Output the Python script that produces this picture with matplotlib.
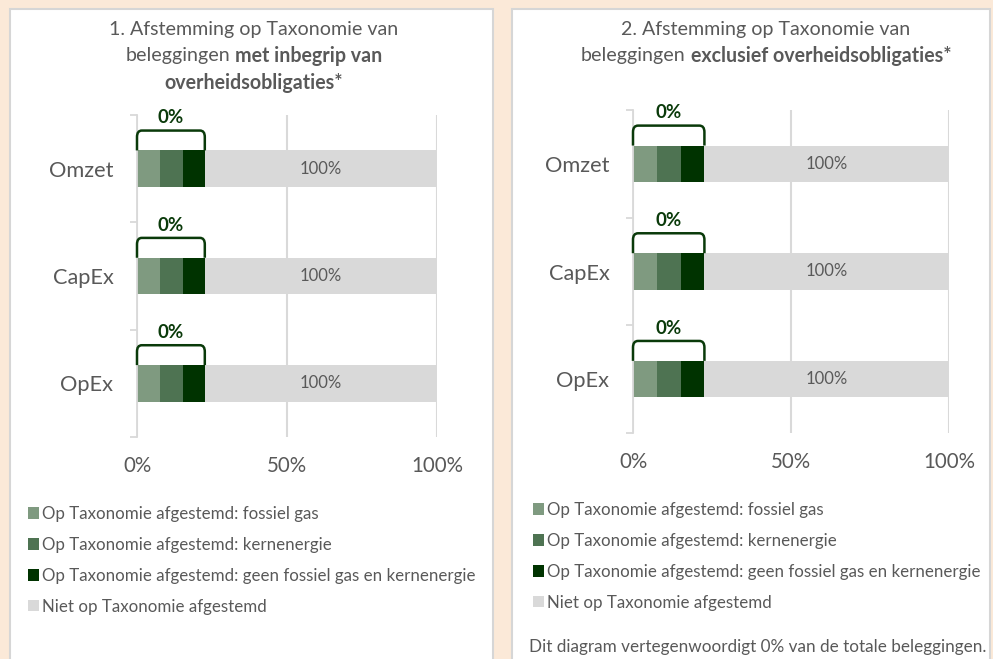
import numpy as np
import matplotlib.pyplot as plt
from matplotlib.patches import Rectangle, PathPatch
from matplotlib.path import Path

plt.rcParams['font.family'] = ['Lato', 'DejaVu Sans']

# ---- data ----
categories = ["Omzet", "CapEx", "OpEx"]
# bar lengths as drawn in the chart (%)
fossiel_gas = [7.6, 7.6, 7.6]
kernenergie = [7.7, 7.7, 7.7]
geen_fossiel_kern = [7.3, 7.3, 7.3]
niet_afgestemd = [77.4, 77.4, 77.4]
afgestemd_labels = ["0%", "0%", "0%"]
niet_labels = ["100%", "100%", "100%"]
xticks = [0, 50, 100]
xticklabels = ["0%", "50%", "100%"]
series_names = ["Op Taxonomie afgestemd: fossiel gas",
                "Op Taxonomie afgestemd: kernenergie",
                "Op Taxonomie afgestemd: geen fossiel gas en kernenergie",
                "Niet op Taxonomie afgestemd"]
series_colors = ["#7F9A80", "#4E7352", "#003300", "#D9D9D9"]

titles = [
    [[("1. Afstemming op Taxonomie van", "normal")],
     [("beleggingen", "normal"), ("met inbegrip van", "bold")],
     [("overheidsobligaties*", "bold")]],
    [[("2. Afstemming op Taxonomie van", "normal")],
     [("beleggingen", "normal"), ("exclusief overheidsobligaties*", "bold")]],
]
footnote = "Dit diagram vertegenwoordigt 0% van de totale beleggingen."

W, H = 993, 659
TXT = "#595959"
GRID = "#D9D9D9"
DARK = "#0A3A0A"


def fx(x):
    return x / W


def fy(y):
    return 1 - y / H


fig = plt.figure(figsize=(W / 100, H / 100), dpi=100)
fig.patch.set_facecolor("#FBE9D8")

# white panels
for x0, x1 in [(10, 493), (512, 990)]:
    fig.add_artist(Rectangle((fx(x0), fy(680)), fx(x1 - x0), (680 - 9) / H,
                             transform=fig.transFigure, facecolor="white",
                             edgecolor="#D6D6D6", lw=1.5, zorder=0))

panels = [
    dict(ax=(137, 437, 115, 437), title_x=254, title_y=29, leg=(28, 506), foot=None),
    dict(ax=(633, 949, 110, 433), title_x=766, title_y=29, leg=(533, 502), foot=(529, 647)),
]


def draw_title(lines, cx, cy, size=14.1, step=27):
    r = fig.canvas.get_renderer()
    sp = fig.text(0, 0, "a a", fontsize=size)
    nsp = fig.text(0, 0, "aa", fontsize=size)
    space = sp.get_window_extent(r).width - nsp.get_window_extent(r).width
    sp.remove()
    nsp.remove()
    for k, pieces in enumerate(lines):
        objs = [fig.text(0, fy(cy + k * step), s, fontsize=size, fontweight=w,
                         color=TXT, ha="left", va="center") for s, w in pieces]
        widths = [o.get_window_extent(r).width for o in objs]
        total = sum(widths) + space * (len(objs) - 1)
        x = cx - total / 2
        for o, w in zip(objs, widths):
            o.set_x(fx(x))
            x += w + space


fig.canvas.draw()

for p, lines in zip(panels, titles):
    l, r_, t, b = p["ax"]
    ax = fig.add_axes([fx(l), fy(b), fx(r_ - l), (b - t) / H])
    y = np.arange(len(categories))
    left = np.zeros(len(categories))
    bars = []
    for vals, c in zip([fossiel_gas, kernenergie, geen_fossiel_kern, niet_afgestemd], series_colors):
        bars.append(ax.barh(y, vals, left=left, height=0.34, color=c, zorder=2))
        left = left + np.array(vals)

    green = np.array(fossiel_gas) + np.array(kernenergie) + np.array(geen_fossiel_kern)
    for i in range(len(categories)):
        ybar = y[i] - 0.17
        ytop = ybar - 0.185
        x0, x1 = 0.0, green[i]
        rx, ry = 1.6, 0.06
        verts = [(x0, ybar), (x0, ytop + ry), (x0, ytop), (x0 + rx, ytop),
                 (x1 - rx, ytop), (x1, ytop), (x1, ytop + ry), (x1, ybar)]
        codes = [Path.MOVETO, Path.LINETO, Path.CURVE3, Path.CURVE3,
                 Path.LINETO, Path.CURVE3, Path.CURVE3, Path.LINETO]
        ax.add_patch(PathPatch(Path(verts, codes), fill=False, edgecolor=DARK,
                               lw=1.8, zorder=3, clip_on=False))
        ax.text(green[i] / 2, ytop - 0.12, afgestemd_labels[i], ha="center", va="center",
                fontsize=13.5, fontweight="bold", color=DARK)
        ax.text(green[i] + niet_afgestemd[i] / 2, y[i], niet_labels[i], ha="center",
                va="center", fontsize=12, color=TXT, zorder=4)

    ax.set_xlim(0, 100)
    ax.set_ylim(len(categories) - 0.5, -0.5)
    ax.set_xticks(xticks)
    ax.set_xticklabels(xticklabels)
    ax.set_yticks(y)
    ax.set_yticklabels(categories)
    ax.set_yticks(np.arange(len(categories) + 1) - 0.5, minor=True)
    ax.tick_params(axis="x", length=0, pad=14, labelsize=14.8, labelcolor=TXT)
    ax.tick_params(axis="y", which="major", length=0, pad=17, labelsize=15.7, labelcolor=TXT)
    ax.tick_params(axis="y", which="minor", length=5, width=1.3, color=GRID)
    for s in ["top", "right", "bottom"]:
        ax.spines[s].set_visible(False)
    ax.spines["left"].set_color(GRID)
    ax.spines["left"].set_linewidth(1.3)
    ax.grid(axis="x", color=GRID, lw=1.5, zorder=0)
    ax.set_axisbelow(True)
    ax.set_facecolor("none")

    lx, ly = p["leg"]
    ax.legend([b_[0] for b_ in bars], series_names, loc="upper left",
              bbox_to_anchor=(fx(lx), fy(ly)), bbox_transform=fig.transFigure,
              frameon=False, fontsize=12.2, labelcolor=TXT, handlelength=0.65,
              handleheight=0.65, handletextpad=0.2, labelspacing=0.88,
              borderpad=0, borderaxespad=0)

    draw_title(lines, p["title_x"], p["title_y"])

    if p["foot"]:
        fig.text(fx(p["foot"][0]), fy(p["foot"][1]), footnote, fontsize=12.3,
                 color=TXT, ha="left", va="center")

fig.savefig("out.png", dpi=100, facecolor=fig.get_facecolor())
